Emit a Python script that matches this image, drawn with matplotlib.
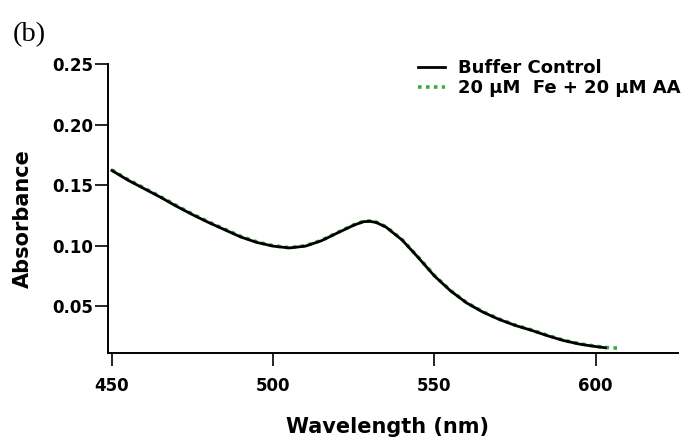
import matplotlib
matplotlib.use('Agg')
import matplotlib.pyplot as plt

# absorbance spectra (nm, AU)
wavelength = [450, 455, 460, 465, 470, 475, 480, 485, 490, 495, 500, 505,
              510, 515, 520, 525, 528, 530, 532, 535, 540, 545, 550, 555,
              560, 565, 570, 575, 580, 585, 590, 595, 600, 603]
buffer_control = [0.162, 0.154, 0.147, 0.140, 0.1325, 0.1255, 0.119, 0.113,
                  0.107, 0.1025, 0.0995, 0.098, 0.0995, 0.104, 0.1105, 0.1168,
                  0.1197, 0.1200, 0.1190, 0.1152, 0.1045, 0.0900, 0.0748,
                  0.0625, 0.0525, 0.0450, 0.0390, 0.0340, 0.0300, 0.0255,
                  0.0215, 0.0185, 0.0165, 0.0155]

wavelength_fe = [450, 455, 460, 465, 470, 475, 480, 485, 490, 495, 500, 505,
                 510, 515, 520, 525, 528, 530, 532, 535, 540, 545, 550, 555,
                 560, 565, 570, 575, 580, 585, 590, 595, 600, 603, 607]
fe_aa = [0.1625, 0.1545, 0.1475, 0.1405, 0.133, 0.126, 0.1195, 0.1135,
         0.1075, 0.103, 0.0998, 0.0982, 0.0998, 0.1043, 0.1108, 0.1171,
         0.1200, 0.1203, 0.1193, 0.1155, 0.1048, 0.0903, 0.0752,
         0.0628, 0.0528, 0.0453, 0.0393, 0.0343, 0.0303, 0.0258,
         0.0218, 0.0188, 0.0168, 0.0158, 0.0152]

x_ticks = [450, 500, 550, 600]
y_ticks = [0.05, 0.10, 0.15, 0.20, 0.25]

plt.rcParams['font.family'] = ['DejaVu Sans']
plt.rcParams['font.weight'] = 'bold'

fig = plt.figure(figsize=(6.81, 4.43), dpi=100)
ax = fig.add_axes([0.1586, 0.2032, 0.8370, 0.6523])

ax.plot(wavelength_fe, fe_aa, linestyle=(0, (1, 1.2)), color='#3daa3d',
        linewidth=2.6, label='20 µM  Fe + 20 µM AA', zorder=2)
ax.plot(wavelength, buffer_control, color='black', linewidth=2.0,
        label='Buffer Control', zorder=3)

ax.set_xlim(448.8, 625.5)
ax.set_ylim(0.0112, 0.25)
ax.set_xticks(x_ticks)
ax.set_yticks(y_ticks)
ax.set_yticklabels(['%.2f' % v for v in y_ticks])

for side in ['top', 'right']:
    ax.spines[side].set_visible(False)
for side in ['left', 'bottom']:
    ax.spines[side].set_linewidth(1.4)
ax.tick_params(axis='both', which='major', length=9.5, width=1.2,
               labelsize=12, direction='out')
ax.tick_params(axis='x', pad=8)
ax.tick_params(axis='y', pad=1)
for lbl in ax.get_xticklabels() + ax.get_yticklabels():
    lbl.set_fontweight('bold')

ax.set_xlabel('Wavelength (nm)', fontsize=15, fontweight='bold')
ax.xaxis.set_label_coords(0.49, -0.222)
ax.set_ylabel('Absorbance', fontsize=15, fontweight='bold')
ax.yaxis.set_label_coords(-0.131, 0.465)

handles, labels = ax.get_legend_handles_labels()
leg = ax.legend(handles[::-1], labels[::-1], loc='upper left',
                bbox_to_anchor=(418 / 681, 1 - 59 / 443),
                bbox_transform=fig.transFigure, frameon=False,
                fontsize=13, handlelength=1.5, handletextpad=0.7,
                labelspacing=0.12, borderpad=0, borderaxespad=0)
for t in leg.get_texts():
    t.set_fontweight('bold')

fig.text(0.018, 0.922, '(b)', fontsize=20.5, family='Liberation Serif',
         fontweight='normal', va='center', ha='left')

fig.savefig('out.png', dpi=100)
